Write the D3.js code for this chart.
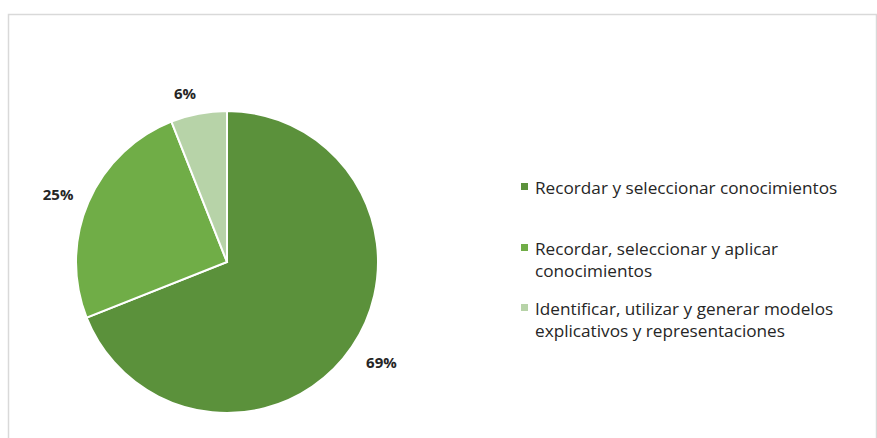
<!DOCTYPE html>
<html>
<head>
<meta charset="utf-8">
<script src="https://cdn.jsdelivr.net/npm/d3@7"></script>
<style>
  body { margin: 0; background: #fff; }
  svg { display: block; }
</style>
</head>
<body>
<svg id="chart"></svg>
<script>
const categories = [
    ["Recordar y seleccionar conocimientos"],
    ["Recordar, seleccionar y aplicar", "conocimientos"],
    ["Identificar, utilizar y generar modelos", "explicativos y representaciones"]
];
const values = [69, 25, 6];
const labels = ["69%", "25%", "6%"];
const colors = ["#5b913b", "#70ad47", "#b7d3a8"];

document.addEventListener("DOMContentLoaded", drawChart);

function drawChart() {
    const width = 877;
    const height = 438;

    const svg = d3.select("svg#chart")
        .attr("width", width)
        .attr("height", height);

    // Рамка
    svg.append("rect")
        .attr("x", 8.5)
        .attr("y", 14.5)
        .attr("width", 868)
        .attr("height", 440)
        .attr("fill", "white")
        .attr("stroke", "#d9d9d9")
        .attr("stroke-width", 1.5);

    const cx = 227, cy = 262, radius = 151;

    const pie = d3.pie().sort(null).value(d => d);
    const arcs = pie(values);

    const arc = d3.arc().innerRadius(0).outerRadius(radius);
    const labelArc = d3.arc().innerRadius(radius + 20).outerRadius(radius + 20);

    const g = svg.append("g")
        .attr("transform", `translate(${cx},${cy})`);

    g.selectAll("path")
        .data(arcs)
        .join("path")
        .attr("d", arc)
        .attr("fill", (d, i) => colors[i])
        .attr("stroke", "white")
        .attr("stroke-width", 2);

    // Подписи процентов
    const labelOffsets = [[13, 4], [-12, 0], [-10, -1]];
    g.selectAll("text.pct")
        .data(arcs)
        .join("text")
        .attr("class", "pct")
        .attr("x", (d, i) => labelArc.centroid(d)[0] + labelOffsets[i][0])
        .attr("y", (d, i) => labelArc.centroid(d)[1] + labelOffsets[i][1])
        .attr("text-anchor", "middle")
        .attr("dominant-baseline", "central")
        .attr("font-family", "'Open Sans', sans-serif")
        .attr("font-weight", "bold")
        .attr("font-size", 15)
        .attr("fill", "#262626")
        .text((d, i) => labels[i]);

    // Легенда
    const legendY = [187, 248, 308];
    const legend = svg.append("g")
        .attr("font-family", "'Open Sans', sans-serif")
        .attr("font-size", 17.2)
        .attr("fill", "#262626");

    categories.forEach((lines, i) => {
        legend.append("rect")
            .attr("x", 521)
            .attr("y", legendY[i] - 4)
            .attr("width", 7)
            .attr("height", 7)
            .attr("fill", colors[i]);

        const t = legend.append("text")
            .attr("x", 535)
            .attr("y", legendY[i])
            .attr("dominant-baseline", "central");
        lines.forEach((line, j) => {
            t.append("tspan")
                .attr("x", 535)
                .attr("dy", j === 0 ? 0 : 22)
                .text(line);
        });
    });
}
</script>
</body>
</html>
